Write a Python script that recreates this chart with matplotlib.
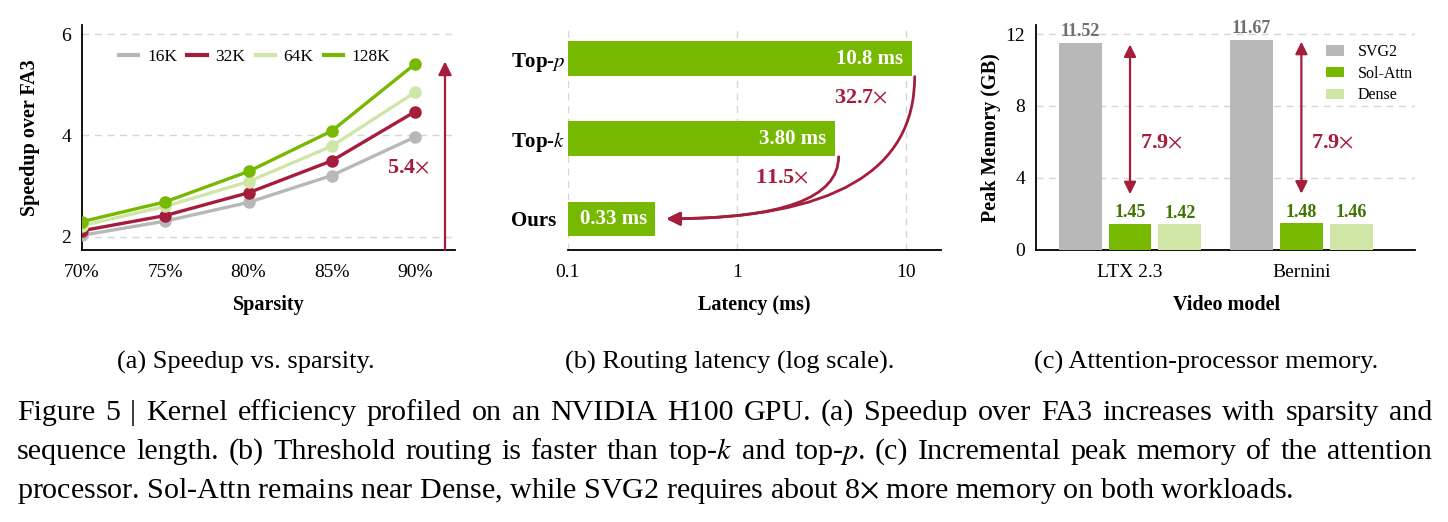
import numpy as np
import matplotlib
matplotlib.use('Agg')
import matplotlib.pyplot as plt
from matplotlib.lines import Line2D

plt.rcParams['font.family'] = ['Liberation Serif', 'DejaVu Serif']
plt.rcParams['mathtext.fontset'] = 'stix'
plt.rcParams['axes.linewidth'] = 1.3

# ---- (a) speedup vs sparsity ----
sparsity = [70, 75, 80, 85, 90]
sparsity_labels = ['70%', '75%', '80%', '85%', '90%']
seq_names = ['16K', '32K', '64K', '128K']
speedup_16k = [2.03, 2.31, 2.68, 3.21, 3.97]
speedup_32k = [2.12, 2.42, 2.87, 3.50, 4.47]
speedup_64k = [2.22, 2.60, 3.09, 3.79, 4.85]
speedup_128k = [2.30, 2.69, 3.29, 4.09, 5.41]
max_speedup_label = '5.4$\\times$'

# ---- (b) routing latency ----
routing_methods = ['Ours', 'Top-$k$', 'Top-$p$']
routing_latency = [0.33, 3.80, 10.8]
latency_labels = ['0.33 ms', '3.80 ms', '10.8 ms']
ratio_labels = ['11.5$\\times$', '32.7$\\times$']

# ---- (c) peak memory ----
video_models = ['LTX 2.3', 'Bernini']
mem_names = ['SVG2', 'Sol-Attn', 'Dense']
mem_svg2 = [11.52, 11.67]
mem_sol = [1.45, 1.48]
mem_dense = [1.42, 1.46]
mem_ratio_label = '7.9$\\times$'

GRAY = '#b8b8b8'
RED = '#a51d3c'
LGREEN = '#cfe6a7'
GREEN = '#76b900'
GRID = '#d6d6d6'

W, H = 1448, 522
fig = plt.figure(figsize=(W / 100, H / 100), dpi=100)


def px_axes(left, right, top, bottom):
    return fig.add_axes([left / W, 1 - bottom / H, (right - left) / W, (bottom - top) / H])


def clean(ax):
    for s in ['top', 'right']:
        ax.spines[s].set_visible(False)
    ax.tick_params(length=0, labelsize=14)


# ================= (a) =================
ax1 = px_axes(82, 455, 25, 250)
clean(ax1)
series = [speedup_16k, speedup_32k, speedup_64k, speedup_128k]
colors = [GRAY, RED, LGREEN, GREEN]
for vals, c in zip(series, colors):
    ax1.plot(sparsity, vals, color=c, lw=2.4, marker='o', ms=8, zorder=3)
ax1.set_xlim(70, 92.4)
ax1.set_ylim(1.74, 6.18)
ax1.set_xticks(sparsity)
ax1.set_xticklabels(sparsity_labels)
ax1.set_yticks([2, 4, 6])
ax1.tick_params(axis='x', pad=10)
ax1.tick_params(axis='y', pad=8)
ax1.grid(axis='y', color=GRID, ls=(0, (5, 4)), lw=1)
ax1.set_axisbelow(True)
ax1.set_xlabel('Sparsity', fontsize=14.5, fontweight='bold')
ax1.set_ylabel('Speedup over FA3', fontsize=14.5, fontweight='bold')
ax1.xaxis.set_label_coords(0.5, -0.2)
ax1.yaxis.set_label_coords(-0.113, 0.5)
handles = [Line2D([], [], color=c, lw=3) for c in colors]
ax1.legend(handles, seq_names, ncol=4, loc='center left', bbox_to_anchor=(0.1, 0.86),
           frameon=False, fontsize=12.5, handlelength=1.1, handletextpad=0.5,
           columnspacing=0.6, borderpad=0, borderaxespad=0)
ax1.annotate('', xy=(91.8, max(speedup_128k) + 0.05), xytext=(91.8, 1.74),
             arrowprops=dict(arrowstyle='-|>', color=RED, lw=1.6, mutation_scale=20,
                             shrinkA=0, shrinkB=0), annotation_clip=False)
ax1.text(90.9, 3.35, max_speedup_label, color=RED, fontsize=16, fontweight='bold',
         ha='right', va='center')

# ================= (b) =================
ax2 = px_axes(567.7, 940.7, 25, 250)
clean(ax2)
ax2.spines['left'].set_visible(False)
ypos = np.arange(len(routing_methods))
ax2.set_xscale('log')
ax2.barh(ypos, [v - 0.1 for v in routing_latency], left=0.1, height=0.43, color=GREEN, zorder=3)
ax2.set_xlim(0.1, 16)
ax2.set_ylim(-0.39, 2.42)
ax2.set_xticks([0.1, 1, 10])
ax2.set_xticklabels(['0.1', '1', '10'])
ax2.xaxis.set_minor_locator(matplotlib.ticker.NullLocator())
ax2.set_yticks(ypos)
ax2.set_yticklabels(routing_methods, fontsize=15, fontweight='bold')
for lab in ax2.get_yticklabels():
    lab.set_ha('left')
ax2.tick_params(axis='y', pad=41)
ax2.tick_params(axis='x', pad=10)
ax2.grid(axis='x', color=GRID, ls=(0, (5, 4)), lw=1)
ax2.set_axisbelow(True)
ax2.set_xlabel('Latency (ms)', fontsize=14.5, fontweight='bold')
ax2.xaxis.set_label_coords(0.5, -0.2)
for y, v, lab in zip(ypos, routing_latency, latency_labels):
    ax2.text(v / 1.12, y, lab, color='white', fontsize=15, fontweight='bold',
             ha='right', va='center', zorder=4)
# curved arrows from top-k / top-p down to ours
tip = (routing_latency[0] * 1.16, ypos[0])
for i, mult, lab, lab_xy in [(1, 1.05, ratio_labels[0], (1.84, 0.5)),
                             (2, 1.04, ratio_labels[1], (5.45, 1.5))]:
    start = (routing_latency[i] * mult, ypos[i] - 0.225)
    ax2.annotate('', xy=tip, xytext=start,
                 arrowprops=dict(arrowstyle='-|>', color=RED, lw=2, mutation_scale=20,
                                 shrinkA=0, shrinkB=0,
                                 connectionstyle='angle3,angleA=90,angleB=0'),
                 zorder=5)
    ax2.text(lab_xy[0], lab_xy[1], lab, color=RED, fontsize=16, fontweight='bold',
             ha='center', va='center')

# ================= (c) =================
ax3 = px_axes(1036.3, 1415, 25, 250)
clean(ax3)
xg = np.arange(len(video_models))
bw = 0.25
off = 0.29
ax3.bar(xg - off, mem_svg2, bw, color=GRAY, label=mem_names[0], zorder=3)
ax3.bar(xg, mem_sol, bw, color=GREEN, label=mem_names[1], zorder=3)
ax3.bar(xg + off, mem_dense, bw, color=LGREEN, label=mem_names[2], zorder=3)
for xs, vals, c in [(xg - off, mem_svg2, '#6f6f6f'), (xg, mem_sol, '#3e7400'),
                    (xg + off, mem_dense, '#3e7400')]:
    for x, v in zip(xs, vals):
        ax3.annotate(f'{v:.2f}', (x, v), xytext=(0, 2), textcoords='offset points',
                     ha='center', va='bottom', fontsize=13, fontweight='bold', color=c)
for x, s, d in zip(xg, mem_svg2, mem_sol):
    ax3.annotate('', xy=(x, s - 0.1), xytext=(x, d + 1.65),
                 arrowprops=dict(arrowstyle='<|-|>', color=RED, lw=1.6, mutation_scale=18,
                                 shrinkA=0, shrinkB=0))
    ax3.text(x + 0.058, 5.94, mem_ratio_label, color=RED, fontsize=16, fontweight='bold',
             ha='left', va='center')
ax3.set_xlim(-0.547, 1.663)
ax3.set_ylim(0, 12.5)
ax3.set_yticks([0, 4, 8, 12])
ax3.set_xticks(xg)
ax3.set_xticklabels(video_models)
ax3.tick_params(axis='x', pad=10)
ax3.tick_params(axis='y', pad=8)
ax3.grid(axis='y', color=GRID, ls=(0, (5, 4)), lw=1)
ax3.set_axisbelow(True)
ax3.set_xlabel('Video model', fontsize=14.5, fontweight='bold')
ax3.set_ylabel('Peak Memory (GB)', fontsize=14.5, fontweight='bold')
ax3.xaxis.set_label_coords(0.503, -0.2)
ax3.yaxis.set_label_coords(-0.094, 0.5)
ax3.legend(loc='upper left', bbox_to_anchor=(0.765, 0.915), frameon=False, fontsize=11.5,
           handlelength=1.1, handleheight=0.6, handletextpad=0.9, labelspacing=0.35,
           borderpad=0, borderaxespad=0)

# ================= captions =================
sub_caps = ['(a) Speedup vs. sparsity.', '(b) Routing latency (log scale).',
            '(c) Attention-processor memory.']
sub_x = [246, 730, 1206]
for s, x in zip(sub_caps, sub_x):
    fig.text(x / W, 1 - 369 / H, s, fontsize=19, ha='center', va='baseline')

cap_lines = [
    'Figure 5 | Kernel efficiency profiled on an NVIDIA H100 GPU. (a) Speedup over FA3 increases with sparsity and',
    'sequence length. (b) Threshold routing is faster than top-$k$ and top-$p$. (c) Incremental peak memory of the attention',
    'processor. Sol-Attn remains near Dense, while SVG2 requires about 8$\\times$ more memory on both workloads.',
]
cap_base = [420, 459, 498]
x0, x1 = 17, 1432
r = fig.canvas.get_renderer()
probe = fig.text(0, 0, cap_lines[2], fontsize=20)
w20 = probe.get_window_extent(r).width
probe.remove()
cap_fs = 20 * (1293 - x0) / w20
for k, (line, yb) in enumerate(zip(cap_lines, cap_base)):
    words = line.split(' ')
    if k == len(cap_lines) - 1:
        fig.text(x0 / W, 1 - yb / H, line, fontsize=cap_fs, ha='left', va='baseline')
        continue
    arts = [fig.text(0, 1 - yb / H, w, fontsize=cap_fs, ha='left', va='baseline') for w in words]
    widths = [a.get_window_extent(r).width for a in arts]
    gap = (x1 - x0 - sum(widths)) / (len(words) - 1)
    x = x0
    for a, wd in zip(arts, widths):
        a.set_x(x / W)
        x += wd + gap

fig.savefig('out.png', dpi=100)
